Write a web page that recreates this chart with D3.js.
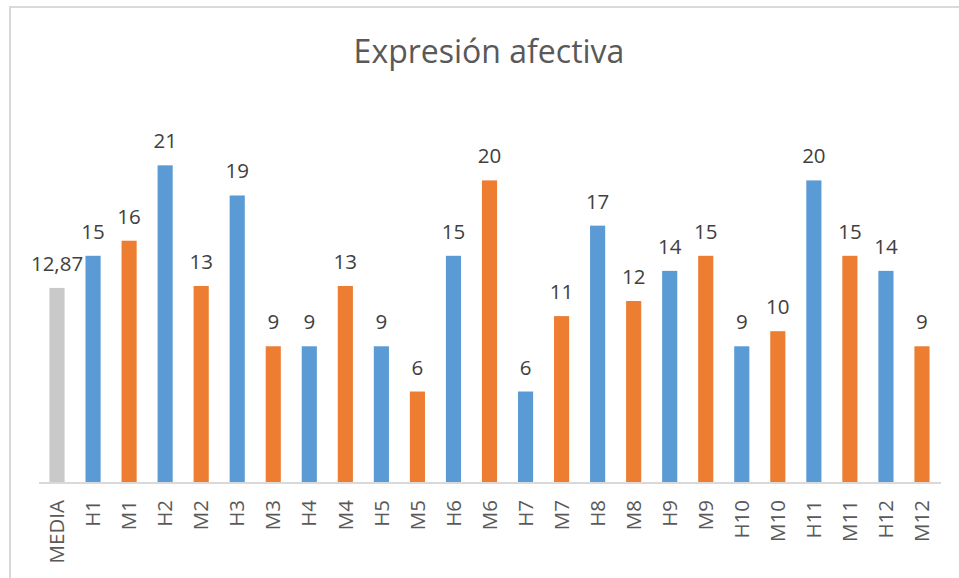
<!DOCTYPE html>
<html>
<head>
<meta charset="utf-8">
<script src="https://cdn.jsdelivr.net/npm/d3@7"></script>
<style>
  body { margin: 0; background: #fff; }
  text { font-family: "Open Sans", sans-serif; }
</style>
</head>
<body>
<script>
// Chart data
const categories = ["MEDIA", "H1", "M1", "H2", "M2", "H3", "M3", "H4", "M4", "H5", "M5", "H6", "M6",
  "H7", "M7", "H8", "M8", "H9", "M9", "H10", "M10", "H11", "M11", "H12", "M12"];
const values = [12.87, 15, 16, 21, 13, 19, 9, 9, 13, 9, 6, 15, 20, 6, 11, 17, 12, 14, 15, 9, 10, 20, 15, 14, 9];
const title = "Expresión afectiva";

const width = 959, height = 578;

const svg = d3.select("body").append("svg")
  .attr("width", width)
  .attr("height", height);

// Chart frame (only left and top edges show in the picture)
svg.append("rect")
  .attr("x", 10).attr("y", 7)
  .attr("width", 1000).attr("height", 1000)
  .style("fill", "#fff")
  .style("stroke", "#d9d9d9")
  .style("stroke-width", 2);

svg.append("text")
  .attr("x", 489).attr("y", 63)
  .style("text-anchor", "middle")
  .style("font-size", "32px")
  .style("fill", "#595959")
  .text(title);

const x = d3.scaleBand()
  .domain(categories)
  .range([39, 940])
  .paddingInner(0.58)
  .paddingOuter(0.29);

const y = d3.scaleLinear()
  .domain([0, 25])
  .range([482, 105]);

function barColor(cat) {
  if (cat === "MEDIA") return "#c9c9c9";
  return cat[0] === "H" ? "#5b9bd5" : "#ed7d31";
}

svg.append("g").selectAll("rect")
  .data(categories)
  .join("rect")
  .attr("x", d => x(d))
  .attr("y", (d, i) => y(values[i]))
  .attr("width", x.bandwidth())
  .attr("height", (d, i) => y(0) - y(values[i]))
  .style("fill", d => barColor(d));

// Value labels
svg.append("g").selectAll("text")
  .data(categories)
  .join("text")
  .attr("x", d => x(d) + x.bandwidth() / 2)
  .attr("y", (d, i) => y(values[i]) - 17)
  .style("text-anchor", "middle")
  .style("font-size", "20.5px")
  .style("fill", "#404040")
  .text((d, i) => String(values[i]).replace(".", ","));

// Category axis
const xAxis = svg.append("g")
  .attr("transform", "translate(0," + y(0) + ")")
  .call(d3.axisBottom(x).tickSize(0).tickPadding(0));

xAxis.select(".domain")
  .attr("d", "M39,1H941")
  .style("stroke", "#d9d9d9")
  .style("stroke-width", 2);

xAxis.selectAll("text")
  .attr("transform", "rotate(-90)")
  .attr("x", -18)
  .attr("y", 0)
  .attr("dy", "0.35em")
  .style("text-anchor", "end")
  .style("font-family", "'Open Sans', sans-serif")
  .style("font-size", "20.5px")
  .style("fill", "#595959");
</script>
</body>
</html>
